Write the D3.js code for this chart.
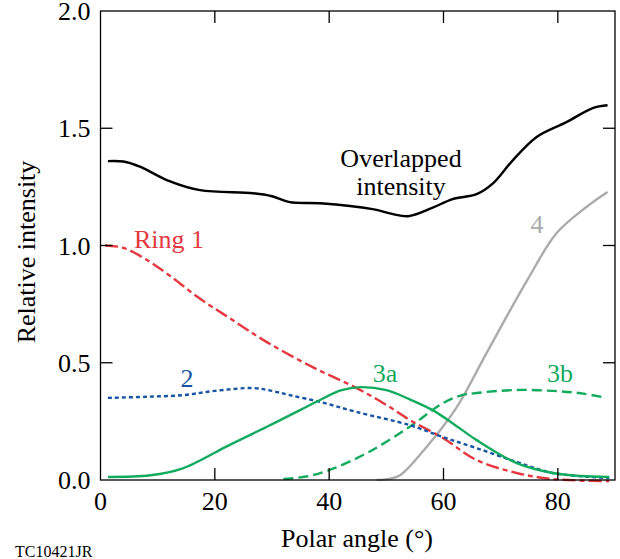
<!DOCTYPE html>
<html>
<head>
<meta charset="utf-8">
<script src="https://cdn.jsdelivr.net/npm/d3@7"></script>
<style>
  body { margin: 0; background: #fff; }
</style>
</head>
<body>
<svg id="chart" width="620" height="559" font-family="'Liberation Serif', 'Times New Roman', Times, serif"></svg>
<script>
// values: [polar angle (deg), relative intensity]
const overlapped = [[1.3,1.36],[4,1.358],[7,1.335],[11.6,1.279],[17.4,1.236],[26.7,1.223],[30,1.21],[33.1,1.185],[38.4,1.18],[47.6,1.155],[51,1.135],[53.8,1.125],[58,1.16],[61.6,1.198],[65.8,1.219],[68.7,1.266],[72,1.36],[76.3,1.463],[81.5,1.526],[86.1,1.586],[88.7,1.598]]
const ring1 = [[0.8,1.0],[4,0.99],[8,0.94],[12.2,0.87],[17,0.78],[22.6,0.69],[29.1,0.588],[37.2,0.48],[44.8,0.392],[50,0.32],[54.1,0.256],[59.9,0.179],[65.8,0.085],[72.8,0.03],[79.1,0.004],[89,-0.005]]
const ring2 = [[1.3,0.35],[8,0.355],[14.5,0.362],[20,0.38],[26.7,0.392],[30,0.38],[33.1,0.362],[38.4,0.333],[44.8,0.29],[54.1,0.234],[59.9,0.183],[65.8,0.136],[72.8,0.077],[79.1,0.03],[89,0.008]]
const ring3a = [[1.3,0.013],[8.7,0.02],[14.4,0.05],[22.6,0.15],[29.1,0.227],[34.9,0.298],[38.4,0.341],[42,0.382],[45.5,0.396],[50,0.383],[54,0.345],[58.1,0.298],[62,0.235],[65.8,0.17],[72.8,0.072],[79.1,0.03],[84,0.017],[89,0.013]]
const ring3b = [[32,0.004],[36,0.015],[40.1,0.043],[46.6,0.115],[54.1,0.227],[59.9,0.328],[63,0.36],[65.8,0.371],[72.8,0.384],[79.1,0.38],[84,0.37],[88.5,0.35]]
const ring4 = [[48.3,0],[50.5,0.005],[52.4,0.02],[57,0.14],[62.3,0.31],[67.5,0.54],[74.6,0.85],[79.8,1.053],[85,1.164],[88.7,1.228]]

const xTicks = [0, 20, 40, 60, 80]
const yTicks = [0, 0.5, 1.0, 1.5, 2.0]

const svg = d3.select('#chart')
const margin = {left: 100.5, right: 5, top: 11, bottom: 79}
const w = 620 - margin.left - margin.right
const h = 559 - margin.top - margin.bottom
const fs = 26

const x = d3.scaleLinear().domain([0, 90]).range([0, w])
const y = d3.scaleLinear().domain([0, 2]).range([h, 0])

const g = svg.append('g').attr('transform', `translate(${margin.left},${margin.top})`)

const line = d3.line()
    .x(d => x(d[0]))
    .y(d => y(d[1]))
    .curve(d3.curveCatmullRom.alpha(0.5))

const series = [
    {data: ring4, color: '#ababab', dash: null},
    {data: ring3b, color: '#12ab5e', dash: '10,5'},
    {data: ring1, color: '#e5383f', dash: '13,4,5,4'},
    {data: ring2, color: '#1755a4', dash: '4,3'},
    {data: ring3a, color: '#12ab5e', dash: null},
    {data: overlapped, color: '#000', dash: null}
]

g.selectAll('path.series')
    .data(series)
    .join('path')
    .attr('class', 'series')
    .attr('fill', 'none')
    .attr('stroke', d => d.color)
    .attr('stroke-width', 2.4)
    .attr('stroke-dasharray', d => d.dash)
    .attr('d', d => line(d.data))

// frame + inward ticks on all four sides
const tickLen = 12
const frame = g.append('g').attr('stroke', '#000').attr('stroke-width', 1.3)
frame.append('rect').attr('width', w).attr('height', h).attr('fill', 'none')

frame.selectAll('line.xb').data(xTicks.slice(1)).join('line')
    .attr('x1', d => x(d)).attr('x2', d => x(d)).attr('y1', h).attr('y2', h - tickLen)
frame.selectAll('line.xt').data(xTicks.slice(1)).join('line')
    .attr('x1', d => x(d)).attr('x2', d => x(d)).attr('y1', 0).attr('y2', tickLen)
frame.selectAll('line.yl').data(yTicks.slice(1, -1)).join('line')
    .attr('y1', d => y(d)).attr('y2', d => y(d)).attr('x1', 0).attr('x2', tickLen)
frame.selectAll('line.yr').data(yTicks.slice(1, -1)).join('line')
    .attr('y1', d => y(d)).attr('y2', d => y(d)).attr('x1', w).attr('x2', w - tickLen)

g.selectAll('text.xl').data(xTicks).join('text')
    .attr('x', d => x(d)).attr('y', h + 30)
    .attr('text-anchor', 'middle').attr('font-size', fs)
    .text(d => d)

g.selectAll('text.yl').data(yTicks).join('text')
    .attr('x', -10).attr('y', d => y(d) + 9)
    .attr('text-anchor', 'end').attr('font-size', fs)
    .text(d => d.toFixed(1))

svg.append('text')
    .attr('transform', 'translate(35,252) rotate(-90)')
    .attr('text-anchor', 'middle').attr('font-size', fs)
    .text('Relative intensity')

svg.append('text')
    .attr('x', 357).attr('y', 547)
    .attr('text-anchor', 'middle').attr('font-size', fs)
    .text('Polar angle (°)')

svg.append('text')
    .attr('x', 15).attr('y', 557)
    .attr('font-size', 16)
    .text('TC10421JR')

// curve labels
const labels = [
    {t: 'Overlapped', x: 401, y: 167, c: '#000'},
    {t: 'intensity', x: 401, y: 195, c: '#000'},
    {t: 'Ring 1', x: 169, y: 248, c: '#e5383f'},
    {t: '2', x: 187, y: 387, c: '#1755a4'},
    {t: '3a', x: 385, y: 382, c: '#12ab5e'},
    {t: '3b', x: 560, y: 382, c: '#12ab5e'},
    {t: '4', x: 537, y: 233, c: '#ababab'}
]
svg.selectAll('text.lab').data(labels).join('text')
    .attr('class', 'lab')
    .attr('x', d => d.x).attr('y', d => d.y)
    .attr('text-anchor', 'middle').attr('font-size', fs)
    .attr('fill', d => d.c)
    .text(d => d.t)
</script>
</body>
</html>
